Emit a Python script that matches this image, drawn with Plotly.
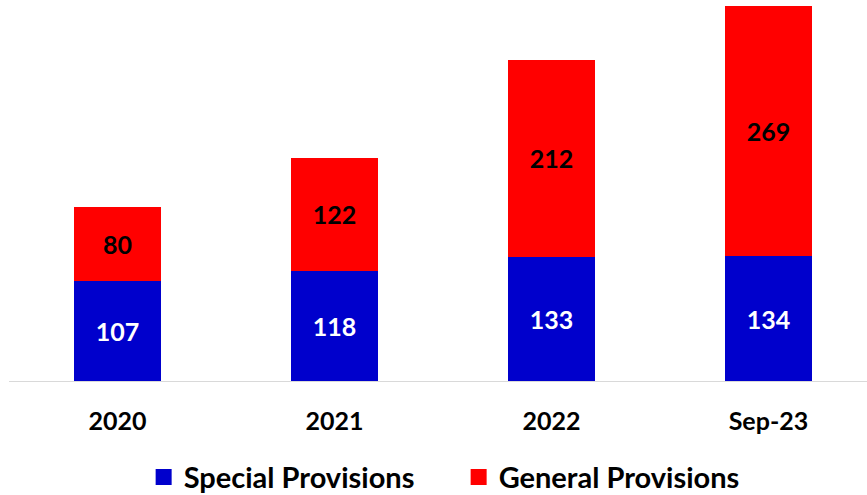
import plotly.graph_objects as go

periods = ["2020", "2021", "2022", "Sep-23"]
special = [107, 118, 133, 134]
general = [80, 122, 212, 269]

BLUE = "#0000CC"
RED = "#FF0000"
FONT = "Lato, 'Open Sans', sans-serif"

fig = go.Figure()

fig.add_trace(go.Bar(
    x=periods, y=special, name="Special Provisions",
    marker=dict(color=BLUE, line=dict(width=0)),
    text=special, textposition="inside", insidetextanchor="middle",
    textfont=dict(color="white", size=25, family=FONT, weight="bold"),
    showlegend=False,
))
fig.add_trace(go.Bar(
    x=periods, y=general, name="General Provisions",
    marker=dict(color=RED, line=dict(width=0)),
    text=general, textposition="inside", insidetextanchor="middle",
    textfont=dict(color="black", size=25, family=FONT, weight="bold"),
    showlegend=False,
))

# legend entries with larger square swatches
for name, color in [("Special Provisions", BLUE), ("General Provisions", RED)]:
    fig.add_trace(go.Scatter(
        x=[None], y=[None], mode="markers", name=name,
        marker=dict(symbol="square", size=18, color=color),
        showlegend=True,
    ))

fig.update_layout(
    width=867, height=495,
    barmode="stack", bargap=0.6,
    plot_bgcolor="white", paper_bgcolor="white",
    margin=dict(l=9, r=0, t=0, b=114, autoexpand=False),
    font=dict(family=FONT, size=25, color="black"),
    legend=dict(
        orientation="h", traceorder="normal",
        xref="container", yref="container",
        x=0.529, xanchor="center", y=0.036, yanchor="middle",
        entrywidth=270,
        font=dict(size=29, family=FONT, weight="bold"),
        itemclick=False,
    ),
    xaxis=dict(
        range=[-0.5, 3.454],
        showline=True, linecolor="#D9D9D9", linewidth=1,
        showgrid=False, ticks="", ticklabelstandoff=18,
        tickfont=dict(size=25, family=FONT, weight="bold", color="black"),
        fixedrange=True,
    ),
    yaxis=dict(
        range=[0, 409.2], visible=False, showgrid=False, fixedrange=True,
    ),
)

fig.write_html("out.html")
